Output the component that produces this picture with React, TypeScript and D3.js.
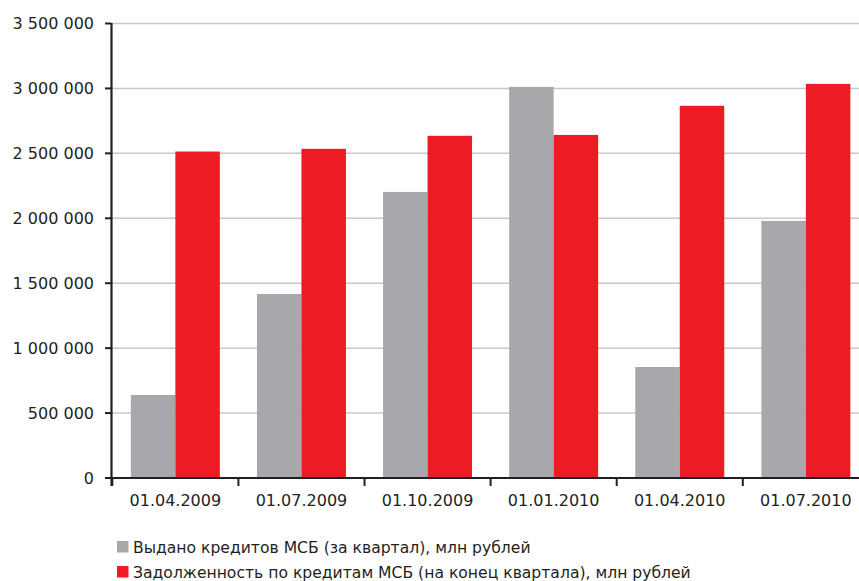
import React from "react";
import * as d3 from "d3";

const categories = ["01.04.2009", "01.07.2009", "01.10.2009", "01.01.2010", "01.04.2010", "01.07.2010"];
const issued = [639000, 1417000, 2203000, 3012000, 855000, 1980000];
const debt = [2514000, 2535000, 2635000, 2642000, 2866000, 3035000];
const seriesNames = [
  "Выдано кредитов МСБ (за квартал), млн рублей",
  "Задолженность по кредитам МСБ (на конец квартала), млн рублей",
];
const yTicks = [0, 500000, 1000000, 1500000, 2000000, 2500000, 3000000, 3500000];

const W = 859;
const H = 581;
const colors = ["#a7a8ab", "#ed1c24"];
const axisColor = "#231f20";
const font = "'DejaVu Sans', sans-serif";

const fmt = (v: number) => d3.format(",")(v).replace(/,/g, "\u00a0");

export default function App() {
  const y = d3.scaleLinear().domain([0, 3500000]).range([478, 23.5]);
  const x0 = d3.scaleBand<string>().domain(categories).range([112.3, 112.3 + 6 * 126.1]).padding(0);
  const keys = ["issued", "debt"];
  const x1 = d3.scaleBand<string>().domain(keys).range([0, x0.bandwidth()]).paddingInner(0).paddingOuter(0.417);
  const data = [issued, debt];

  return (
    <div style={{ position: "fixed", left: 0, top: 0 }}>
      <svg width={W} height={H} style={{ display: "block", background: "#fff" }}>
        {yTicks.filter((t) => t > 0).map((t) => (
          <line key={"g" + t} x1={111} x2={W} y1={y(t)} y2={y(t)} stroke="#c8c8c8" strokeWidth={1.5} />
        ))}
        {categories.map((c, i) =>
          keys.map((k, j) => (
            <rect
              key={c + k}
              x={(x0(c) as number) + (x1(k) as number)}
              y={y(data[j][i])}
              width={x1.bandwidth()}
              height={y(0) - y(data[j][i])}
              fill={colors[j]}
            />
          ))
        )}
        {/* y axis */}
        <line x1={111.5} x2={111.5} y1={y(3500000) - 0.5} y2={y(0) + 8} stroke={axisColor} strokeWidth={2.2} />
        {yTicks.map((t) => (
          <g key={"t" + t}>
            <line x1={105} x2={111} y1={y(t)} y2={y(t)} stroke={axisColor} strokeWidth={2} />
            <text x={94} y={y(t)} dy="0.36em" textAnchor="end" fontFamily={font} fontSize={16} fill={axisColor}>
              {fmt(t)}
            </text>
          </g>
        ))}
        {/* x axis */}
        <line x1={110} x2={W} y1={y(0)} y2={y(0)} stroke={axisColor} strokeWidth={2.2} />
        {categories.map((c) => (
          <g key={"x" + c}>
            <line x1={x0(c) as number} x2={x0(c) as number} y1={y(0)} y2={y(0) + 8} stroke={axisColor} strokeWidth={2} />
            <text
              x={(x0(c) as number) + x0.bandwidth() / 2}
              y={505.5}
              textAnchor="middle"
              fontFamily={font}
              fontSize={16}
              fill={axisColor}
            >
              {c}
            </text>
          </g>
        ))}
        {/* legend */}
        {seriesNames.map((n, i) => (
          <g key={"l" + i}>
            <rect x={117} y={541 + i * 25} width={11.5} height={11.5} fill={colors[i]} />
            <text x={133} y={553 + i * 24.5} fontFamily={font} fontSize={15.6} fill={axisColor}>
              {n}
            </text>
          </g>
        ))}
      </svg>
    </div>
  );
}
